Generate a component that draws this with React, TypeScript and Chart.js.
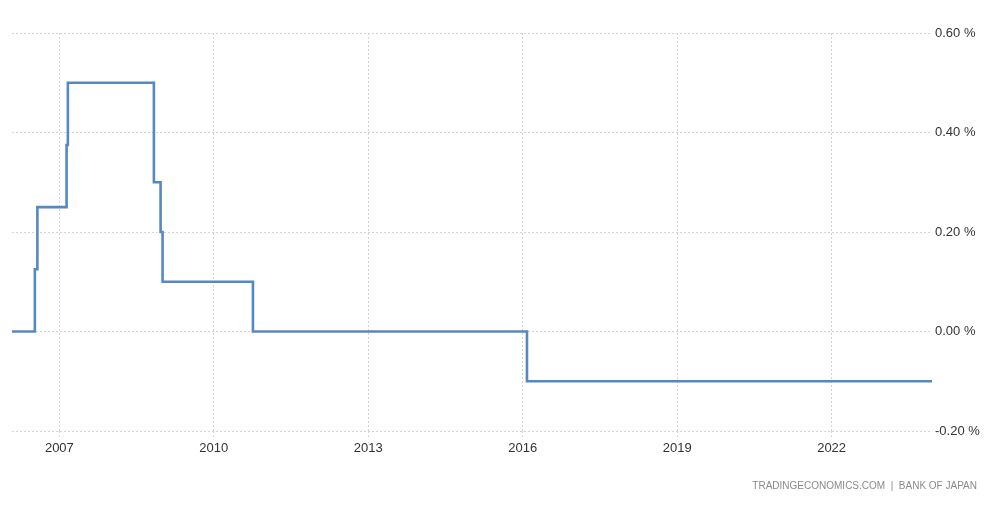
import React, { useEffect, useRef } from 'react';
import { Chart, registerables } from 'chart.js';

Chart.register(...registerables);

// Decimal-year dates at which the policy rate changes (step-after)
const changeDates = [2006.08, 2006.524, 2006.573, 2007.14, 2007.165, 2008.836, 2008.966, 2009.005, 2010.76, 2016.083, 2023.95];
const rateValues = [0, 0.125, 0.25, 0.375, 0.5, 0.3, 0.2, 0.1, 0, -0.1, -0.1];
const xTickYears = [2007, 2010, 2013, 2016, 2019, 2022];
const yTickValues = [-0.2, 0, 0.2, 0.4, 0.6];
const sourceText = 'TRADINGECONOMICS.COM  |  BANK OF JAPAN';

const X_MIN = 2006.08;
const X_MAX = 2023.95;

export default function App() {
  const ref = useRef<HTMLCanvasElement | null>(null);

  useEffect(() => {
    if (!ref.current) return;
    const footer = {
      id: 'footer',
      afterDraw(chart: any) {
        const ctx = chart.ctx;
        ctx.save();
        ctx.font = '10px "Liberation Sans", Arial, sans-serif';
        ctx.fillStyle = '#8a8a8a';
        ctx.textAlign = 'right';
        ctx.textBaseline = 'middle';
        ctx.fillText(sourceText, 977, 486);
        ctx.restore();
      },
    };
    const chart = new Chart(ref.current, {
      type: 'line',
      data: {
        datasets: [
          {
            data: changeDates.map((d, i) => ({ x: d, y: rateValues[i] })),
            borderColor: '#5689c0',
            borderWidth: 2.6,
            pointRadius: 0,
            stepped: true,
            fill: false,
          },
        ],
      },
      options: {
        responsive: false,
        animation: false,
        layout: { padding: { left: 12, top: 33, right: 0, bottom: 0 } },
        plugins: { legend: { display: false }, tooltip: { enabled: false } },
        scales: {
          x: {
            type: 'linear',
            min: X_MIN,
            max: X_MAX,
            afterBuildTicks: (scale: any) => {
              scale.ticks = xTickYears.map((v) => ({ value: v }));
            },
            afterFit: (scale: any) => {
              scale.height = 81;
            },
            grid: {
              color: '#d4d4d4',
              tickLength: 7,
              tickBorderDash: [2, 2],
              drawTicks: true,
            },
            border: { display: false, dash: [2, 2] },
            ticks: {
              autoSkip: false,
              maxRotation: 0,
              padding: 3,
              color: '#333333',
              font: { family: '"Liberation Sans", Arial, sans-serif', size: 13 },
              callback: (v: any) => String(v),
            },
          },
          y: {
            position: 'right',
            min: -0.2,
            max: 0.6,
            afterBuildTicks: (scale: any) => {
              scale.ticks = yTickValues.map((v) => ({ value: v }));
            },
            afterFit: (scale: any) => {
              scale.width = 70;
            },
            grid: { color: '#d4d4d4', drawTicks: false },
            border: { display: false, dash: [2, 2] },
            ticks: {
              padding: 3,
              color: '#333333',
              font: { family: '"Liberation Sans", Arial, sans-serif', size: 13 },
              callback: (v: any) => Number(v).toFixed(2) + ' %',
            },
          },
        },
      },
      plugins: [footer],
    });
    return () => chart.destroy();
  }, []);

  return (
    <div style={{ position: 'absolute', left: 0, top: 0, width: 1002, height: 512, background: '#fff' }}>
      <canvas ref={ref} width={1002} height={512} />
    </div>
  );
}
